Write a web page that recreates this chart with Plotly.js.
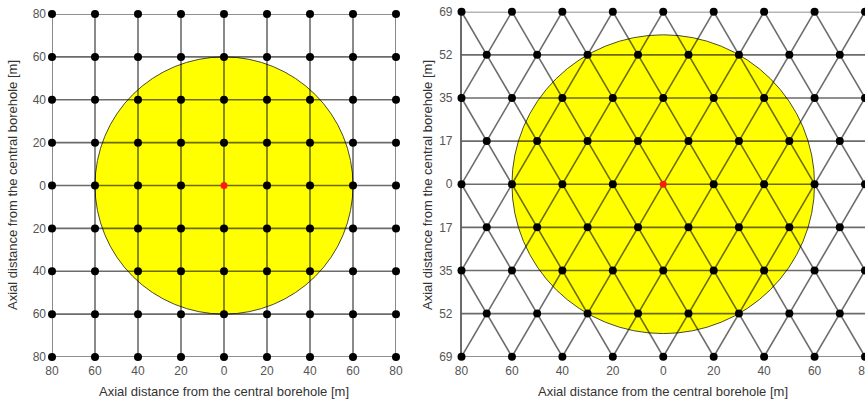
<!DOCTYPE html>
<html><head><meta charset="utf-8">
<script src="https://cdn.plot.ly/plotly-3.0.1.min.js"></script>
<style>html,body{margin:0;padding:0;background:#fff}</style>
</head><body><div id="chart" style="width:865px;height:404px"></div>
<script>
// ---- data ----
const squareX = [-80, -60, -40, -20, 0, 20, 40, 60, 80];
const squareY = [-80, -60, -40, -20, 0, 20, 40, 60, 80];
const squareTickText = ['80', '60', '40', '20', '0', '20', '40', '60', '80'];
const triRowY = [-69.28, -51.96, -34.64, -17.32, 0, 17.32, 34.64, 51.96, 69.28];
const triRowTickText = ['69', '52', '35', '17', '0', '17', '35', '52', '69'];
const triEvenX = [-80, -60, -40, -20, 0, 20, 40, 60, 80];
const triOddX = [-70, -50, -30, -10, 10, 30, 50, 70];
const xTickVals = [-80, -60, -40, -20, 0, 20, 40, 60, 80];
const xTickText = ['80', '60', '40', '20', '0', '20', '40', '60', '80'];
const centreX = [0];
const centreY = [0];
const zoneRadius = 60;
const titleText = 'Axial distance from the central borehole [m]';

// ---- build geometry ----
const lineColor = 'rgba(0,0,0,0.58)';
const sqMin = Math.min(...squareX), sqMax = Math.max(...squareX);
const sqYMin = Math.min(...squareY), sqYMax = Math.max(...squareY);
const sqLX = [], sqLY = [];
squareY.forEach(y => { sqLX.push(sqMin, sqMax, null); sqLY.push(y, y, null); });
squareX.forEach(x => { sqLX.push(x, x, null); sqLY.push(sqYMin, sqYMax, null); });
const sqPX = [], sqPY = [];
squareY.forEach(y => squareX.forEach(x => { if (!(x === 0 && y === 0)) { sqPX.push(x); sqPY.push(y); } }));

const rowX = i => (i % 2 === 0 ? triEvenX : triOddX);
const triMin = Math.min(...triEvenX), triMax = Math.max(...triEvenX);
const trLX = [], trLY = [];
triRowY.forEach(y => { trLX.push(triMin, triMax, null); trLY.push(y, y, null); });
for (let i = 0; i < triRowY.length - 1; i++) {
  rowX(i).forEach(xa => {
    rowX(i + 1).forEach(xb => {
      if (Math.abs(xa - xb) === 10) { trLX.push(xa, xb, null); trLY.push(triRowY[i], triRowY[i + 1], null); }
    });
  });
}
const trPX = [], trPY = [];
triRowY.forEach((y, i) => rowX(i).forEach(x => { if (!(x === 0 && y === 0)) { trPX.push(x); trPY.push(y); } }));

const traces = [
  {x: sqLX, y: sqLY, xaxis: 'x', yaxis: 'y', mode: 'lines', line: {color: lineColor, width: 1.6}, cliponaxis: false, hoverinfo: 'skip'},
  {x: sqPX, y: sqPY, xaxis: 'x', yaxis: 'y', mode: 'markers', marker: {color: '#000', size: 8}, cliponaxis: false},
  {x: centreX, y: centreY, xaxis: 'x', yaxis: 'y', mode: 'markers', marker: {color: '#ff1a1a', size: 7}, cliponaxis: false},
  {x: trLX, y: trLY, xaxis: 'x2', yaxis: 'y2', mode: 'lines', line: {color: lineColor, width: 1.6}, cliponaxis: false, hoverinfo: 'skip'},
  {x: trPX, y: trPY, xaxis: 'x2', yaxis: 'y2', mode: 'markers', marker: {color: '#000', size: 8}, cliponaxis: false},
  {x: centreX, y: centreY, xaxis: 'x2', yaxis: 'y2', mode: 'markers', marker: {color: '#ff1a1a', size: 7}, cliponaxis: false}
];

const tickFont = {family: 'Liberation Sans, Arial, sans-serif', size: 12, color: '#555'};
const axBase = {showgrid: false, zeroline: false, showline: false, ticks: '', tickfont: tickFont, fixedrange: true, ticklabeloverflow: 'allow'};
const xAx = Object.assign({}, axBase, {ticklabelstandoff: 5});
const yAx = Object.assign({}, axBase, {ticklabelstandoff: 5});

const layout = {
  width: 865, height: 404,
  margin: {l: 0, r: 0, t: 0, b: 0},
  paper_bgcolor: '#fff', plot_bgcolor: 'rgba(0,0,0,0)',
  showlegend: false,
  xaxis: Object.assign({}, xAx, {domain: [52 / 865, 396 / 865], range: [sqMin, sqMax], tickvals: xTickVals, ticktext: xTickText, anchor: 'y'}),
  yaxis: Object.assign({}, yAx, {domain: [1 - 357 / 404, 1 - 14 / 404], range: [sqYMin, sqYMax], tickvals: squareY, ticktext: squareTickText, anchor: 'x'}),
  xaxis2: Object.assign({}, xAx, {domain: [461.5 / 865, 1], range: [triMin, triMax], tickvals: xTickVals, ticktext: xTickText, anchor: 'y2'}),
  yaxis2: Object.assign({}, yAx, {domain: [1 - 356.7 / 404, 1 - 11.7 / 404], range: [triRowY[0], triRowY[triRowY.length - 1]], tickvals: triRowY, ticktext: triRowTickText, anchor: 'x2', showline: true, linecolor: lineColor, linewidth: 1.6}),
  shapes: [
    {type: 'circle', xref: 'x', yref: 'y', x0: -zoneRadius, x1: zoneRadius, y0: -zoneRadius, y1: zoneRadius, fillcolor: '#ffff00', line: {color: '#4a4a2a', width: 1}, layer: 'below'},
    {type: 'circle', xref: 'x2', yref: 'y2', x0: -zoneRadius, x1: zoneRadius, y0: -zoneRadius, y1: zoneRadius, fillcolor: '#ffff00', line: {color: '#4a4a2a', width: 1}, layer: 'below'}
  ],
  annotations: [
    {text: titleText, xref: 'paper', yref: 'paper', x: 224 / 865, y: 1 - 391 / 404, showarrow: false, xanchor: 'center', yanchor: 'middle', font: {family: 'Liberation Sans, Arial, sans-serif', size: 13, color: '#333'}},
    {text: titleText, xref: 'paper', yref: 'paper', x: 663 / 865, y: 1 - 391 / 404, showarrow: false, xanchor: 'center', yanchor: 'middle', font: {family: 'Liberation Sans, Arial, sans-serif', size: 13, color: '#333'}},
    {text: titleText, xref: 'paper', yref: 'paper', x: 13 / 865, y: 1 - 185 / 404, showarrow: false, textangle: -90, xanchor: 'center', yanchor: 'middle', font: {family: 'Liberation Sans, Arial, sans-serif', size: 13, color: '#333'}},
    {text: titleText, xref: 'paper', yref: 'paper', x: 428 / 865, y: 1 - 185 / 404, showarrow: false, textangle: -90, xanchor: 'center', yanchor: 'middle', font: {family: 'Liberation Sans, Arial, sans-serif', size: 13, color: '#333'}}
  ]
};

Plotly.newPlot('chart', traces, layout, {displayModeBar: false, staticPlot: true});
</script></body></html>
